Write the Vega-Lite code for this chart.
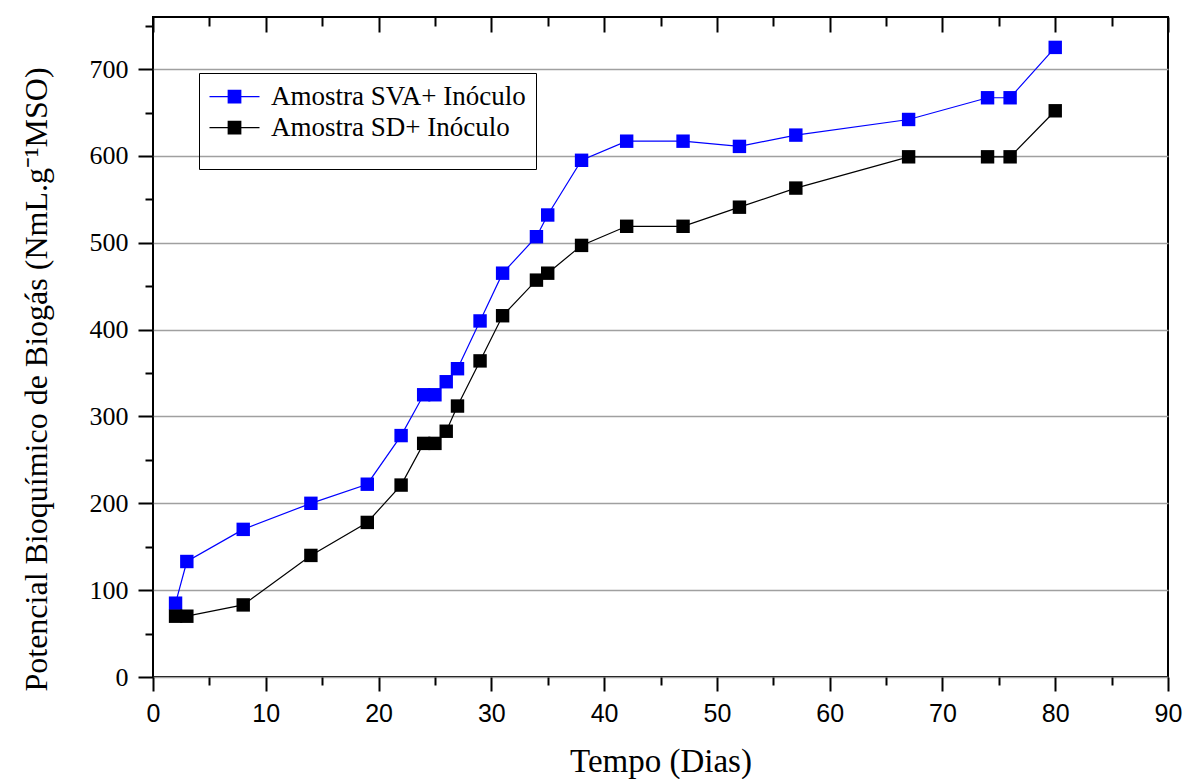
{
  "$schema": "https://vega.github.io/schema/vega-lite/v6.json",
  "width": 1015,
  "height": 660,
  "autosize": "none",
  "padding": {"left": 153, "top": 17, "right": 19, "bottom": 102},
  "background": "white",
  "config": {
    "view": {"stroke": "black", "strokeWidth": 2},
    "font": "Liberation Serif"
  },
  "data": {
    "values": [
      {"dia": 2, "valor": 85, "amostra": "Amostra SVA+ Inóculo"},
      {"dia": 3, "valor": 133, "amostra": "Amostra SVA+ Inóculo"},
      {"dia": 8, "valor": 170, "amostra": "Amostra SVA+ Inóculo"},
      {"dia": 14, "valor": 200, "amostra": "Amostra SVA+ Inóculo"},
      {"dia": 19, "valor": 222, "amostra": "Amostra SVA+ Inóculo"},
      {"dia": 22, "valor": 278, "amostra": "Amostra SVA+ Inóculo"},
      {"dia": 24, "valor": 325, "amostra": "Amostra SVA+ Inóculo"},
      {"dia": 25, "valor": 325, "amostra": "Amostra SVA+ Inóculo"},
      {"dia": 26, "valor": 340, "amostra": "Amostra SVA+ Inóculo"},
      {"dia": 27, "valor": 355, "amostra": "Amostra SVA+ Inóculo"},
      {"dia": 29, "valor": 410, "amostra": "Amostra SVA+ Inóculo"},
      {"dia": 31, "valor": 465, "amostra": "Amostra SVA+ Inóculo"},
      {"dia": 34, "valor": 507, "amostra": "Amostra SVA+ Inóculo"},
      {"dia": 35, "valor": 532, "amostra": "Amostra SVA+ Inóculo"},
      {"dia": 38, "valor": 595, "amostra": "Amostra SVA+ Inóculo"},
      {"dia": 42, "valor": 617, "amostra": "Amostra SVA+ Inóculo"},
      {"dia": 47, "valor": 617, "amostra": "Amostra SVA+ Inóculo"},
      {"dia": 52, "valor": 611, "amostra": "Amostra SVA+ Inóculo"},
      {"dia": 57, "valor": 624, "amostra": "Amostra SVA+ Inóculo"},
      {"dia": 67, "valor": 642, "amostra": "Amostra SVA+ Inóculo"},
      {"dia": 74, "valor": 667, "amostra": "Amostra SVA+ Inóculo"},
      {"dia": 76, "valor": 667, "amostra": "Amostra SVA+ Inóculo"},
      {"dia": 80, "valor": 725, "amostra": "Amostra SVA+ Inóculo"},
      {"dia": 2, "valor": 70, "amostra": "Amostra SD+ Inóculo"},
      {"dia": 3, "valor": 70, "amostra": "Amostra SD+ Inóculo"},
      {"dia": 8, "valor": 83, "amostra": "Amostra SD+ Inóculo"},
      {"dia": 14, "valor": 140, "amostra": "Amostra SD+ Inóculo"},
      {"dia": 19, "valor": 178, "amostra": "Amostra SD+ Inóculo"},
      {"dia": 22, "valor": 221, "amostra": "Amostra SD+ Inóculo"},
      {"dia": 24, "valor": 269, "amostra": "Amostra SD+ Inóculo"},
      {"dia": 25, "valor": 269, "amostra": "Amostra SD+ Inóculo"},
      {"dia": 26, "valor": 283, "amostra": "Amostra SD+ Inóculo"},
      {"dia": 27, "valor": 312, "amostra": "Amostra SD+ Inóculo"},
      {"dia": 29, "valor": 364, "amostra": "Amostra SD+ Inóculo"},
      {"dia": 31, "valor": 416, "amostra": "Amostra SD+ Inóculo"},
      {"dia": 34, "valor": 457, "amostra": "Amostra SD+ Inóculo"},
      {"dia": 35, "valor": 465, "amostra": "Amostra SD+ Inóculo"},
      {"dia": 38, "valor": 497, "amostra": "Amostra SD+ Inóculo"},
      {"dia": 42, "valor": 519, "amostra": "Amostra SD+ Inóculo"},
      {"dia": 47, "valor": 519, "amostra": "Amostra SD+ Inóculo"},
      {"dia": 52, "valor": 541, "amostra": "Amostra SD+ Inóculo"},
      {"dia": 57, "valor": 563, "amostra": "Amostra SD+ Inóculo"},
      {"dia": 67, "valor": 599, "amostra": "Amostra SD+ Inóculo"},
      {"dia": 74, "valor": 599, "amostra": "Amostra SD+ Inóculo"},
      {"dia": 76, "valor": 599, "amostra": "Amostra SD+ Inóculo"},
      {"dia": 80, "valor": 652, "amostra": "Amostra SD+ Inóculo"}
    ]
  },
  "resolve": {"axis": {"x": "independent", "y": "independent"}},
  "layer": [
    {
      "mark": {"type": "line", "strokeWidth": 1.2},
      "encoding": {
        "x": {
          "field": "dia", "type": "quantitative",
          "scale": {"domain": [0, 90], "nice": false, "zero": false},
          "axis": {
            "orient": "bottom", "values": [0,10,20,30,40,50,60,70,80,90],
            "title": "Tempo (Dias)", "titleFont": "Liberation Serif", "titleFontSize": 33,
            "titleFontWeight": "normal", "titleColor": "black", "titleY": 94, "titleBaseline": "alphabetic",
            "labelFont": "Liberation Sans", "labelFontSize": 25, "labelColor": "black",
            "labelPadding": 10, "tickSize": 14, "tickWidth": 2, "tickColor": "black",
            "domain": false, "grid": false, "labelFlush": false
          }
        },
        "y": {
          "field": "valor", "type": "quantitative",
          "scale": {"domain": [0, 760], "nice": false, "zero": true},
          "axis": {
            "orient": "left", "values": [0,100,200,300,400,500,600,700],
            "title": "Potencial Bioquímico de Biogás (NmL.g⁻¹MSO)",
            "titleFont": "Liberation Serif", "titleFontSize": 32, "titleFontWeight": "normal",
            "titleColor": "black", "titleX": -117, "titleY": 362, "titleAngle": -90,
            "titleBaseline": "middle", "titleAlign": "center",
            "labelFont": "Liberation Serif", "labelFontSize": 26, "labelColor": "black",
            "labelPadding": 10, "tickSize": 15, "tickWidth": 2, "tickColor": "black",
            "domain": false, "grid": true, "gridColor": "#a0a0a0", "gridWidth": 1.5, "labelFlush": false
          }
        },
        "color": {
          "field": "amostra", "type": "nominal",
          "scale": {"domain": ["Amostra SVA+ Inóculo", "Amostra SD+ Inóculo"], "range": ["#0000ff", "#000000"]},
          "legend": {
            "orient": "none", "legendX": 46, "legendY": 56,
            "title": "\u00a0", "titleOrient": "bottom", "titleFontSize": 16, "titlePadding": 2,
            "strokeColor": "black", "padding": 10,
            "symbolType": "M-2,-0.05H2V0.05H-2Z M-0.55,-0.55H0.55V0.55H-0.55Z",
            "symbolSize": 625, "symbolOffset": 12, "symbolStrokeWidth": 0,
            "labelFont": "Liberation Serif", "labelFontSize": 27, "labelColor": "black",
            "labelOffset": 23, "rowPadding": 3, "labelLimit": 400
          }
        }
      }
    },
    {
      "mark": {"type": "point", "shape": "square", "filled": true, "opacity": 1, "size": 180},
      "encoding": {
        "x": {
          "field": "dia", "type": "quantitative",
          "axis": {
            "orient": "bottom", "values": [5,15,25,35,45,55,65,75,85],
            "labels": false, "title": null, "domain": false, "grid": false,
            "tickSize": 8, "tickWidth": 2, "tickColor": "black"
          }
        },
        "y": {
          "field": "valor", "type": "quantitative",
          "axis": {
            "orient": "left", "values": [50,150,250,350,450,550,650,750],
            "labels": false, "title": null, "domain": false, "grid": false,
            "tickSize": 8, "tickWidth": 2, "tickColor": "black"
          }
        },
        "color": {
          "field": "amostra", "type": "nominal",
          "legend": {
            "orient": "none", "legendX": 46, "legendY": 56,
            "title": "\u00a0", "titleOrient": "bottom", "titleFontSize": 16, "titlePadding": 2,
            "strokeColor": "black", "padding": 10,
            "symbolType": "M-2,-0.05H2V0.05H-2Z M-0.55,-0.55H0.55V0.55H-0.55Z",
            "symbolSize": 625, "symbolOffset": 12, "symbolStrokeWidth": 0,
            "labelFont": "Liberation Serif", "labelFontSize": 27, "labelColor": "black",
            "labelOffset": 23, "rowPadding": 3, "labelLimit": 400
          }
        }
      }
    },
    {
      "mark": {"type": "point", "opacity": 0},
      "encoding": {
        "x": {
          "field": "dia", "type": "quantitative",
          "axis": {
            "orient": "top", "values": [0,10,20,30,40,50,60,70,80,90],
            "labels": false, "title": null, "domain": false, "grid": false,
            "tickSize": -15, "tickWidth": 2, "tickColor": "black"
          }
        },
        "y": {"field": "valor", "type": "quantitative", "axis": null}
      }
    },
    {
      "mark": {"type": "point", "opacity": 0},
      "encoding": {
        "x": {
          "field": "dia", "type": "quantitative",
          "axis": {
            "orient": "top", "values": [5,15,25,35,45,55,65,75,85],
            "labels": false, "title": null, "domain": false, "grid": false,
            "tickSize": -9, "tickWidth": 2, "tickColor": "black"
          }
        },
        "y": {"field": "valor", "type": "quantitative", "axis": null}
      }
    }
  ]
}
